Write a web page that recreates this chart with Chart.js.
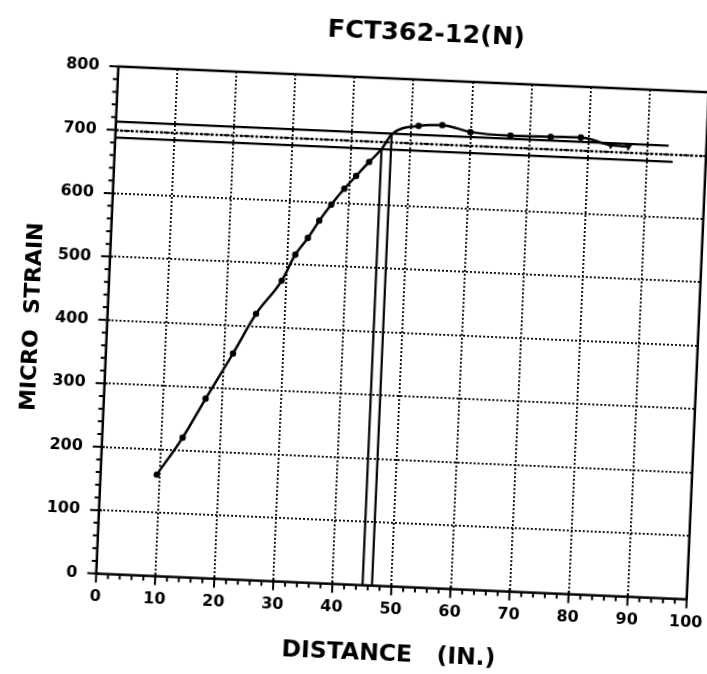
<!DOCTYPE html>
<html><head><meta charset="utf-8">
<script src="https://cdn.jsdelivr.net/npm/chart.js@4.4.0/dist/chart.umd.min.js"></script>
<style>
html,body{margin:0;padding:0;background:#fff;overflow:hidden;width:707px;height:674px;}
#wrap{position:absolute;left:0;top:0;width:760px;height:700px;transform:rotate(2.5deg);transform-origin:353.5px 337px;}
canvas{display:block;}
</style></head><body>
<div id="wrap"><canvas id="c" width="760" height="700"></canvas></div>
<script>
// ---- text ----
const titleText = 'FCT362-12(N)';
const xTitle = 'DISTANCE   (IN.)';
const yTitle = 'MICRO  STRAIN';
// ---- ticks ----
const xTickValues = [0,10,20,30,40,50,60,70,80,90,100];
const yTickValues = [0,100,200,300,400,500,600,700,800];
// ---- measured strain profile ----
const distance = [9.5,13.6,17.2,21.5,25.1,29.2,31.3,33.3,35.1,37.0,39.1,41.0,43.1,45.1,46.7,51.2,55.2,60.0,66.8,73.6,78.7,83.8,86.8];
const strain   = [160,220,283,356,420,474,516,543,571,597,623,644,667,688,712,727,730,721,718,719,720,710,709];
const marker   = ['c','c','c','c','c','c','c','c','c','c','c','c','c','n','n','c','c','c','c','c','c','t','t'];
// ---- average maximum strain band ----
const bandX      = [0, 93.6, 0, 99.4, 0, 94.4];
const bandUpper  = [713, 713];
const bandMean   = [699, 699];
const bandLower  = [688, 688];
// ---- transfer length verticals ----
const transferX   = [45.1, 46.7];
const transferTop = [688, 713];

const FONT = 'DejaVu Sans';

const mainData = distance.map((x,i)=>({x:x, y:strain[i]}));
const seg = (x0,x1,ys)=>[{x:x0,y:ys[0]},{x:x1,y:ys[1]}];

const framePlugin = {
  id:'frame',
  afterLayout(chart){
    const t = chart.titleBlock;
    if (t) { const target = 413; const d = target - (t.left + t.right)/2; t.left += d; t.right += d; }
  },
  afterDraw(chart){
    const {ctx, chartArea:a, scales:{x, y}} = chart;
    ctx.save();
    ctx.strokeStyle = '#000';
    ctx.lineWidth = 2.5;
    ctx.setLineDash([]);
    ctx.strokeRect(a.left, a.top, a.right - a.left, a.bottom - a.top);
    ctx.lineWidth = 2;
    ctx.beginPath();
    for (let v = 0; v <= 800; v += 20) {
      const py = y.getPixelForValue(v);
      if (v % 100 === 0) { ctx.moveTo(a.left - 9, py); ctx.lineTo(a.left + 3, py); }
      else { ctx.moveTo(a.left - 5, py); ctx.lineTo(a.left, py); }
    }
    for (let v = 0; v <= 100; v += 2) {
      const px = x.getPixelForValue(v);
      if (v % 10 === 0) { ctx.moveTo(px, a.bottom - 3); ctx.lineTo(px, a.bottom + 9); }
      else { ctx.moveTo(px, a.bottom); ctx.lineTo(px, a.bottom + 5); }
    }
    ctx.stroke();
    ctx.restore();
  }
};

const gridColor = (edge)=> (c)=> (c.tick && (c.tick.value === 0 || c.tick.value === edge)) ? 'rgba(0,0,0,0)' : '#000';

new Chart(document.getElementById('c'), {
  type: 'scatter',
  data: {
    datasets: [
      { data: mainData, showLine: true, borderColor:'#000', backgroundColor:'#000', borderWidth:2.5,
        cubicInterpolationMode:'monotone',
        pointStyle: marker.map(m => m === 't' ? 'triangle' : 'circle'),
        pointRadius: marker.map(m => m === 'c' ? 3.2 : (m === 't' ? 4.5 : 0)),
        pointRotation: marker.map(m => m === 't' ? 180 : 0),
        pointBorderWidth: 0 },
      { data: seg(bandX[0], bandX[1], bandUpper), showLine:true, borderColor:'#000', borderWidth:2.2, pointRadius:0 },
      { data: seg(bandX[2], bandX[3], bandMean), showLine:true, borderColor:'#000', borderWidth:2.5, borderDash:[2.5,2.5], pointRadius:0 },
      { data: seg(bandX[4], bandX[5], bandLower), showLine:true, borderColor:'#000', borderWidth:2.2, pointRadius:0 },
      { data: [{x:transferX[0],y:0},{x:transferX[0],y:transferTop[0]}], showLine:true, borderColor:'#000', borderWidth:2.2, pointRadius:0 },
      { data: [{x:transferX[1],y:0},{x:transferX[1],y:transferTop[1]}], showLine:true, borderColor:'#000', borderWidth:2.2, pointRadius:0 }
    ]
  },
  options: {
    responsive:false, animation:false, devicePixelRatio:1,
    layout:{ padding:{ left:0, right:62.2, top:0, bottom:0 } },
    plugins:{
      legend:{display:false}, tooltip:{enabled:false},
      title:{ display:true, text:titleText, color:'#000', font:{family:FONT, size:25.5, weight:'bold'}, padding:{top:15.8, bottom:30.6} }
    },
    scales:{
      x:{ type:'linear', min:0, max:100,
        afterBuildTicks: s => { s.ticks = xTickValues.map(v => ({value:v})); },
        afterFit: s => { s.height = 115.4; },
        ticks:{ color:'#000', font:{family:FONT, size:16, weight:'bold'}, padding:14, maxRotation:0, autoSkip:false },
        grid:{ color: gridColor(100), lineWidth:1.8, drawTicks:false },
        border:{ display:false, dash:[2,2] },
        title:{ display:true, text:xTitle, color:'#000', font:{family:FONT, size:23.5, weight:'bold'}, padding:{top:0, bottom:33} }
      },
      y:{ type:'linear', min:0, max:800,
        afterBuildTicks: s => { s.ticks = yTickValues.map(v => ({value:v})); },
        afterFit: s => { s.width = 106.8; },
        ticks:{ color:'#000', font:{family:FONT, size:16, weight:'bold'}, padding:19, autoSkip:false },
        grid:{ color: gridColor(800), lineWidth:1.8, drawTicks:false },
        border:{ display:false, dash:[2,2] },
        title:{ display:true, text:yTitle, color:'#000', font:{family:FONT, size:22, weight:'bold'}, padding:{top:19, bottom:0} }
      }
    }
  },
  plugins:[framePlugin]
});
</script>
</body></html>
